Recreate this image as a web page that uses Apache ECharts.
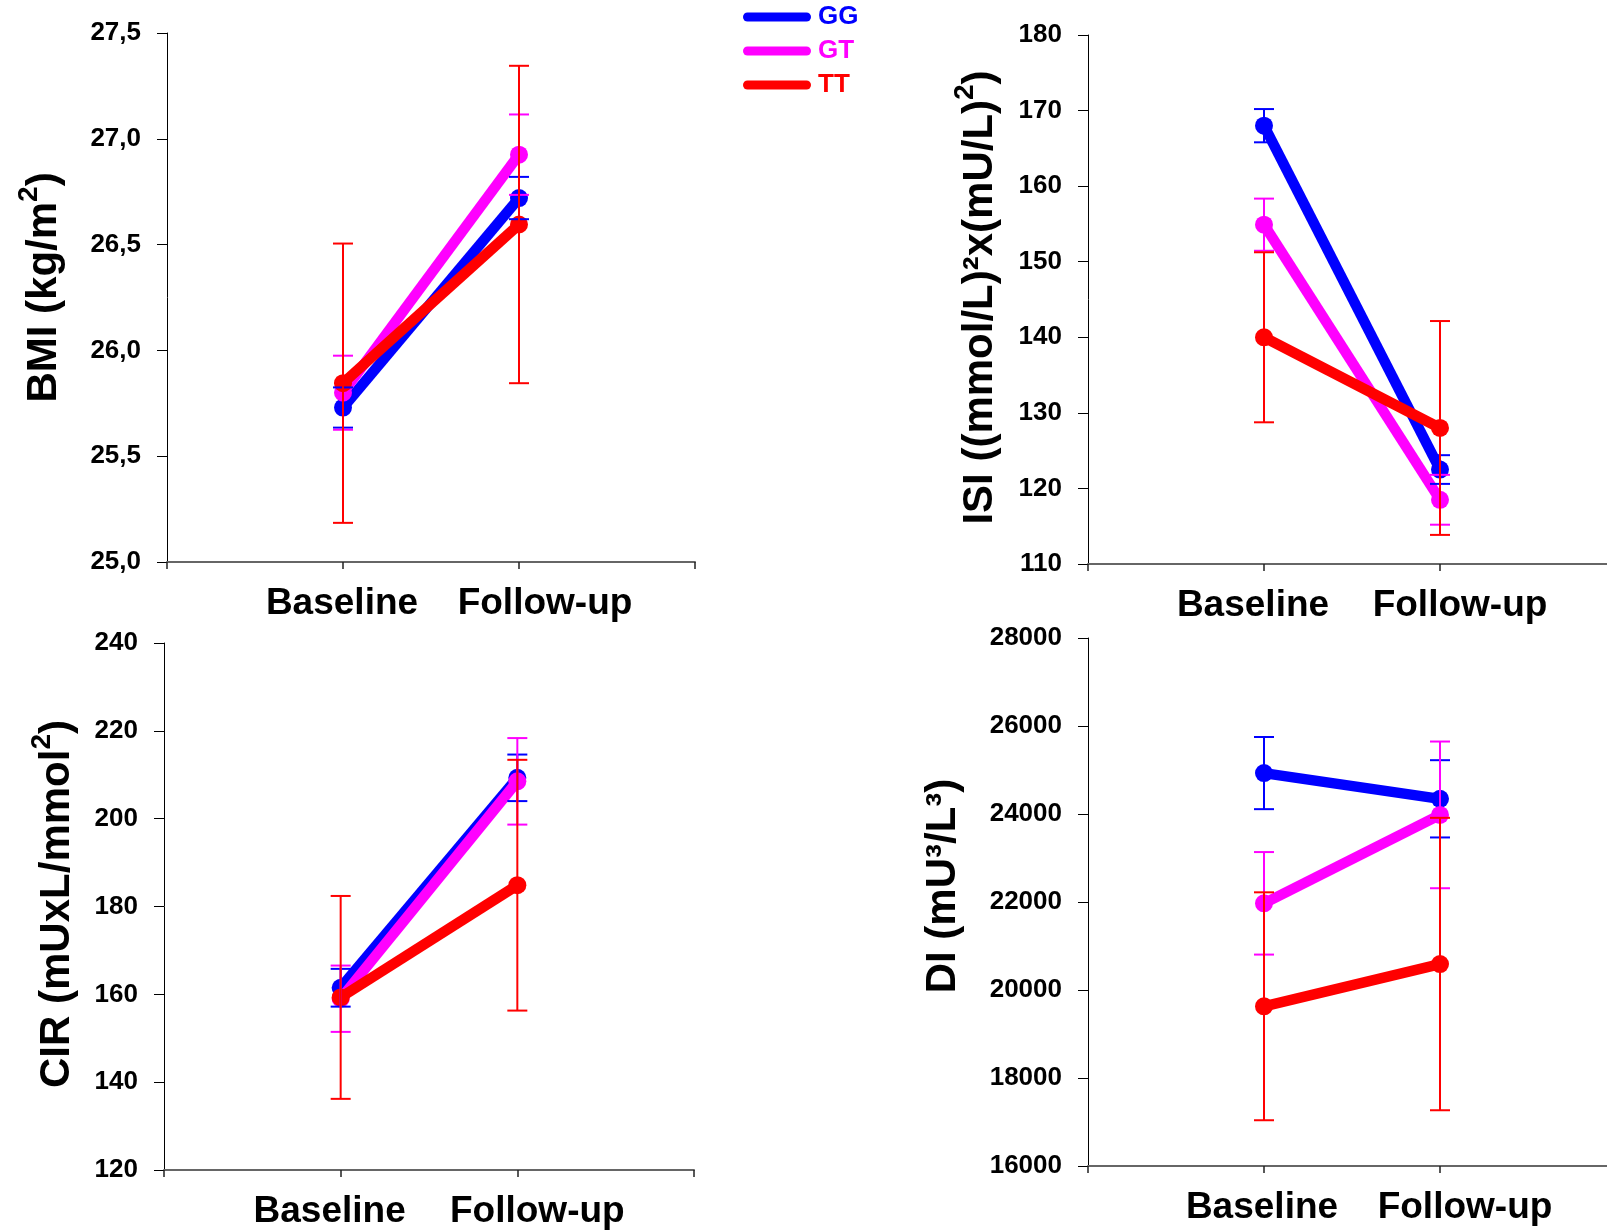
<!DOCTYPE html>
<html><head><meta charset="utf-8">
<script src="https://cdn.jsdelivr.net/npm/echarts@6/dist/echarts.min.js"></script>
<style>html,body{margin:0;padding:0;background:#fff}#c{width:1607px;height:1230px}</style>
</head><body><div id="c"></div>
<script>
const groups = ['GG', 'GT', 'TT'];
const xCats = ['', 'Baseline', 'Follow-up', ''];
const bmiTicks = [25.0, 25.5, 26.0, 26.5, 27.0, 27.5];
const isiTicks = [110, 120, 130, 140, 150, 160, 170, 180];
const cirTicks = [120, 140, 160, 180, 200, 220, 240];
const diTicks = [16000, 18000, 20000, 22000, 24000, 26000, 28000];

// BMI means and SE (Baseline, Follow-up)
const bmiGG = [25.73, 26.72];   const bmiGGse = [0.095, 0.10];
const bmiGT = [25.80, 26.925];  const bmiGTse = [0.175, 0.19];
const bmiTT = [25.845, 26.595]; const bmiTTse = [0.66, 0.75];
// ISI
const isiGG = [168.0, 122.5];   const isiGGse = [2.2, 1.9];
const isiGT = [154.9, 118.5];   const isiGTse = [3.45, 3.3];
const isiTT = [140.0, 128.0];   const isiTTse = [11.25, 14.15];
// CIR
const cirGG = [161.5, 209.3];   const cirGGse = [4.3, 5.3];
const cirGT = [159.0, 208.5];   const cirGTse = [7.55, 9.85];
const cirTT = [159.3, 184.85];  const cirTTse = [23.1, 28.55];
// DI
const diGG = [24930, 24345];    const diGGse = [820, 878];
const diGT = [21970, 23980];    const diGTse = [1165, 1667];
const diTT = [19630, 20590];    const diTTse = [2590, 3323];

const colors = ['#0000ff', '#ff00ff', '#ff0000'];
const FONT = '"Liberation Sans", Arial, Helvetica, sans-serif';

const panels = [
  {means: [bmiGG, bmiGT, bmiTT], ses: [bmiGGse, bmiGTse, bmiTTse], ticks: bmiTicks,
   grid: {left: 167, top: 33, width: 528, height: 529}, nameGap: 102, namePad: 20, lab: [-1, 26],
   fmt: v => v.toFixed(1).replace('.', ','),
   name: '{t|BMI (kg/m}{s|2}{t|)}'},
  {means: [isiGG, isiGT, isiTT], ses: [isiGGse, isiGTse, isiTTse], ticks: isiTicks,
   grid: {left: 1088, top: 35, width: 528, height: 529}, nameGap: 87, namePad: 4, lab: [-11, 20],
   fmt: v => String(v),
   name: '{t|ISI ((mmol/L)²x(mU/L)}{s|2}{t|)}'},
  {means: [cirGG, cirGT, cirTT], ses: [cirGGse, cirGTse, cirTTse], ticks: cirTicks,
   grid: {left: 164, top: 643, width: 530, height: 527}, nameGap: 86, namePad: 5, lab: [-11, 20],
   fmt: v => String(v),
   name: '{t|CIR (mUxL/mmol}{s|2}{t|)}'},
  {means: [diGG, diGT, diTT], ses: [diGGse, diGTse, diTTse], ticks: diTicks,
   grid: {left: 1088, top: 638, width: 528, height: 528}, nameGap: 124, namePad: 32, lab: [-2, 25],
   fmt: v => String(v),
   name: '{t|DI (mU³/L³)}'}
];

function errRender(params, api) {
  const x = api.value(0), lo = api.value(1), hi = api.value(2);
  const a = api.coord([x, lo]), b = api.coord([x, hi]);
  const hw = 10;
  const style = {stroke: api.visual('color'), lineWidth: 2, fill: null};
  return {type: 'group', children: [
    {type: 'line', shape: {x1: a[0], y1: a[1], x2: b[0], y2: b[1]}, style: style},
    {type: 'line', shape: {x1: a[0] - hw, y1: a[1], x2: a[0] + hw, y2: a[1]}, style: style},
    {type: 'line', shape: {x1: b[0] - hw, y1: b[1], x2: b[0] + hw, y2: b[1]}, style: style}
  ]};
}

const grids = [], xAxes = [], yAxes = [], series = [];
panels.forEach((p, pi) => {
  grids.push(Object.assign({containLabel: false, outerBoundsMode: 'none'}, p.grid));
  const lb = p.lab;
  xAxes.push({
    gridIndex: pi, type: 'category', data: xCats, boundaryGap: false,
    axisLine: {show: true, onZero: false, lineStyle: {color: '#666', width: 2}},
    axisTick: {show: true, inside: false, length: 7, interval: 0, lineStyle: {color: '#222', width: 1.5}},
    axisLabel: {
      interval: 0, margin: 23,
      formatter: (v, i) => i === 1 ? '{b|' + v + '}' : (i === 2 ? '{f|' + v + '}' : ''),
      rich: {
        b: {fontSize: 37, fontWeight: 'bold', fontFamily: FONT, color: '#000',
            padding: lb[0] < 0 ? [0, -2 * lb[0], 0, 0] : [0, 0, 0, 2 * lb[0]]},
        f: {fontSize: 37, fontWeight: 'bold', fontFamily: FONT, color: '#000',
            padding: lb[1] < 0 ? [0, -2 * lb[1], 0, 0] : [0, 0, 0, 2 * lb[1]]}
      }
    },
    splitLine: {show: false}
  });
  yAxes.push({
    gridIndex: pi, type: 'value',
    min: p.ticks[0], max: p.ticks[p.ticks.length - 1],
    interval: p.ticks[1] - p.ticks[0],
    axisLine: {show: true, lineStyle: {color: '#000', width: 1}},
    axisTick: {show: true, length: 10, lineStyle: {color: '#000', width: 1}},
    splitLine: {show: false},
    axisLabel: {margin: 26, fontSize: 26, fontWeight: 'bold', fontFamily: FONT, color: '#000',
                formatter: p.fmt},
    name: p.name, nameLocation: 'middle', nameGap: p.nameGap, nameRotate: 90,
    nameTextStyle: {
      padding: [0, 0, 0, p.namePad],
      rich: {
        t: {fontSize: 42, fontWeight: 'bold', fontFamily: FONT, color: '#000', lineHeight: 50, verticalAlign: 'bottom'},
        s: {fontSize: 28, fontWeight: 'bold', fontFamily: FONT, color: '#000', lineHeight: 18, verticalAlign: 'top'}
      }
    }
  });
  groups.forEach((g, gi) => {
    const m = p.means[gi];
    series.push({
      name: g, type: 'line', xAxisIndex: pi, yAxisIndex: pi,
      data: [[1, m[0]], [2, m[1]]],
      symbol: 'circle', symbolSize: 18, showSymbol: true,
      lineStyle: {width: 10.5, color: colors[gi]},
      itemStyle: {color: colors[gi]},
      z: 2 + gi * 0.1, silent: true
    });
  });
  groups.forEach((g, gi) => {
    const m = p.means[gi], se = p.ses[gi];
    series.push({
      name: g, type: 'custom', xAxisIndex: pi, yAxisIndex: pi,
      data: [[1, m[0] - se[0], m[0] + se[0]], [2, m[1] - se[1], m[1] + se[1]]],
      renderItem: errRender,
      itemStyle: {color: colors[gi]},
      encode: {x: 0, y: [1, 2]},
      z: 5 + gi * 0.1, silent: true
    });
  });
});

const chart = echarts.init(document.getElementById('c'), null, {renderer: 'canvas'});
chart.setOption({
  animation: false,
  backgroundColor: '#fff',
  legend: {
    left: 738, top: -1, orient: 'vertical',
    itemWidth: 68, itemHeight: 9, itemGap: 8,
    icon: 'path://M4.5,0H63.5A4.5,4.5,0,0,1,63.5,9H4.5A4.5,4.5,0,0,1,4.5,0Z',
    selectedMode: false,
    data: groups.map((g, i) => ({name: g, textStyle: {color: colors[i]}})),
    textStyle: {fontSize: 26, fontWeight: 'bold', fontFamily: FONT, lineHeight: 25, padding: [0, 0, 0, 2]}
  },
  grid: grids, xAxis: xAxes, yAxis: yAxes, series: series
});
</script></body></html>
